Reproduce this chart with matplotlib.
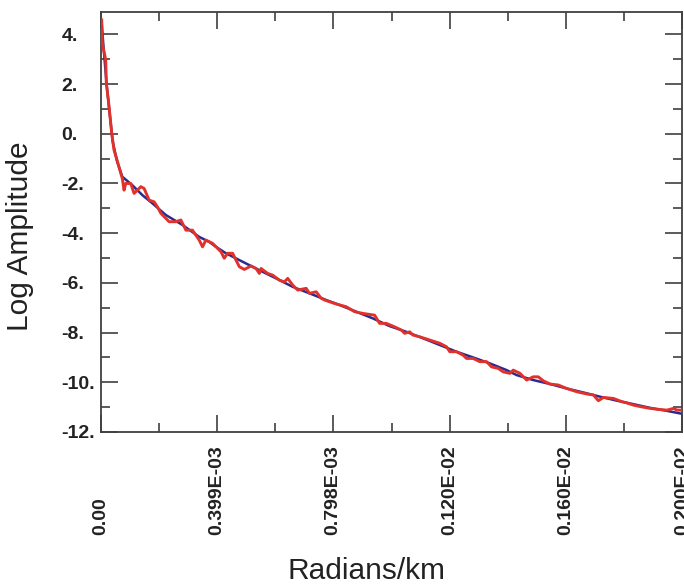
import numpy as np
import matplotlib.pyplot as plt

plt.rcParams['font.family'] = ['Liberation Sans', 'DejaVu Sans']

# radians/km in units of 1e-4, log amplitude
red_x = [0.024, 0.045, 0.162, 0.183, 0.252, 0.300, 0.369, 0.448, 0.562, 0.679, 0.734, 0.793,
         0.852, 1.024, 1.138, 1.252, 1.369, 1.483, 1.655, 1.828, 1.941, 2.059, 2.345, 2.576,
         2.748, 2.921, 3.148, 3.379, 3.493, 3.610, 3.838, 4.010, 4.128, 4.241, 4.355, 4.528,
         4.759, 4.931, 5.162, 5.334, 5.448, 5.507, 5.734, 5.907, 6.138, 6.310, 6.424, 6.597,
         6.769, 7.059, 7.172, 7.403, 7.576, 7.690, 7.862, 8.093, 8.438, 8.724, 9.010, 9.414,
         9.586, 9.817, 10.103, 10.334, 10.448, 10.621, 10.734, 10.966, 11.310, 11.655, 11.886,
         12.000, 12.231, 12.459, 12.576, 12.803, 13.034, 13.266, 13.438, 13.666, 13.838, 14.069,
         14.183, 14.414, 14.645, 14.872, 15.045, 15.217, 15.448, 15.734, 16.024, 16.369, 16.714,
         16.941, 17.114, 17.286, 17.631, 17.921, 18.093, 18.321, 18.610, 18.897, 19.183, 19.472,
         19.700, 19.817, 19.990]
red_y = [4.58, 3.64, 2.97, 2.03, 1.36, 0.82, 0.02, -0.66, -1.10, -1.59, -1.80, -2.27,
         -2.00, -2.00, -2.40, -2.27, -2.13, -2.20, -2.67, -2.74, -2.94, -3.20, -3.54, -3.54,
         -3.47, -3.88, -3.88, -4.28, -4.55, -4.28, -4.41, -4.61, -4.75, -5.01, -4.81, -4.81,
         -5.35, -5.46, -5.32, -5.42, -5.62, -5.42, -5.62, -5.69, -5.89, -5.96, -5.82, -6.09,
         -6.29, -6.22, -6.42, -6.36, -6.62, -6.69, -6.76, -6.85, -6.96, -7.16, -7.23, -7.30,
         -7.63, -7.63, -7.77, -7.90, -8.03, -7.97, -8.10, -8.17, -8.30, -8.43, -8.57,
         -8.77, -8.77, -8.91, -9.04, -9.04, -9.17, -9.17, -9.38, -9.44, -9.58, -9.64,
         -9.51, -9.64, -9.91, -9.78, -9.78, -9.94, -10.07, -10.11, -10.25, -10.38, -10.47,
         -10.51, -10.74, -10.61, -10.65, -10.78, -10.83, -10.92, -10.99, -11.05, -11.09, -11.12,
         -11.05, -11.12, -11.12]

blue_x = [0.02, 0.10, 0.20, 0.30, 0.40, 0.55, 0.734, 1.069, 1.424, 1.769, 2.231, 2.803,
          3.379, 3.724, 3.955, 4.300, 4.872, 5.448, 6.024, 6.597, 7.172, 7.748, 8.207,
          8.783, 9.355, 9.931, 10.507, 11.079, 11.655, 12.231, 12.803, 13.379, 13.955,
          14.300, 14.872, 15.448, 16.024, 16.597, 17.172, 17.748, 18.321, 18.897, 19.472, 20.0]
blue_y = [4.5, 3.3, 1.9, 0.8, -0.3, -1.1, -1.73, -2.06, -2.47, -2.80, -3.27, -3.67,
          -4.15, -4.35, -4.55, -4.81, -5.15, -5.49, -5.82, -6.16, -6.42, -6.69, -6.89,
          -7.16, -7.43, -7.74, -7.97, -8.23, -8.50, -8.77, -9.00, -9.24, -9.51,
          -9.71, -9.91, -10.07, -10.25, -10.41, -10.58, -10.74, -10.88, -11.03, -11.15, -11.27]

x_ticks = [0.0, 0.399e-3, 0.798e-3, 0.120e-2, 0.160e-2, 0.200e-2]
x_labels = ['0.00', '0.399E-03', '0.798E-03', '0.120E-02', '0.160E-02', '0.200E-02']
y_ticks = [-12, -10, -8, -6, -4, -2, 0, 2, 4]

fig = plt.figure(figsize=(6.84, 5.84), dpi=100)
ax = fig.add_axes([101 / 684, 152 / 584, 581.3 / 684, 420.3 / 584])

ax.plot(np.array(blue_x) * 1e-4, blue_y, color='#2b2b8f', lw=1.8, zorder=2)
ax.plot(np.array(red_x) * 1e-4, red_y, color='#e2312b', lw=2.1, zorder=3)

ax.set_xlim(0, 0.002)
ax.set_ylim(-12, 4.91)

ax.set_xticks(x_ticks)
ax.set_xticks([0.2e-3, 0.6e-3, 1.0e-3, 1.4e-3, 1.8e-3], minor=True)
ax.set_xticklabels([])
ax.set_yticks(y_ticks)
ax.set_yticks([-11, -9, -7, -5, -3, -1, 1, 3], minor=True)
ax.set_yticklabels([f'{v}.' for v in y_ticks], fontsize=14, fontweight='bold', color='#222222')

ax.tick_params(which='both', direction='in', top=True, right=True, color='#404040', width=1.2)
ax.tick_params(which='major', length=12.5)
ax.tick_params(which='minor', length=6.5)
ax.tick_params(axis='y', pad=28.5)
for lab in ax.get_yticklabels():
    lab.set_horizontalalignment('left')

for s in ax.spines.values():
    s.set_color('#404040')
    s.set_linewidth(1.3)

# rotated x tick labels aligned at their start (bottom)
for xv, lab in zip(x_ticks, x_labels):
    ax.text(xv, -0.245, lab, transform=ax.get_xaxis_transform(), rotation=90,
            rotation_mode='anchor', ha='left', va='center', fontsize=14,
            fontweight='bold', color='#222222')

ax.set_ylabel('Log Amplitude', fontsize=21.5, color='#222222')
ax.yaxis.set_label_coords(-0.115, 0.466)
ax.set_xlabel('Radians/km', fontsize=21.5, color='#222222', va='top')
ax.xaxis.set_label_coords(0.456, -0.298)

fig.savefig('out.png', dpi=100)
